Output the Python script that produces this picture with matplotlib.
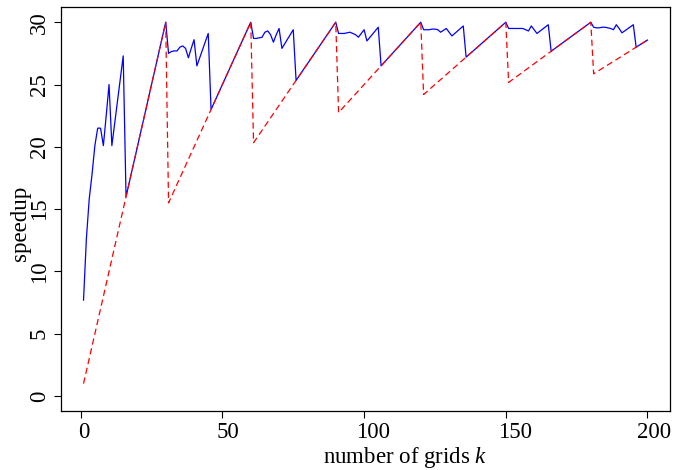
import matplotlib
matplotlib.use('Agg')
import matplotlib.pyplot as plt
import matplotlib.transforms as mtransforms

# red dashed: ideal speedup, vertices of the sawtooth
red_k = [1, 30, 31, 60, 61, 90, 91, 120, 121, 150, 151, 180, 181, 200]
red_s = [1.0, 30.0, 15.5, 30.0, 20.33, 30.0, 22.75, 30.0, 24.2, 30.0,
         25.17, 30.0, 25.86, 28.57]

# blue solid: measured speedup (vertices, straight pieces kept as end points)
blue_k = [1, 2, 3, 4, 5, 6, 7, 8, 9, 10, 11, 15,
          16, 30,
          31, 32, 33, 34, 35, 36, 37, 38, 39, 40, 41, 45,
          46, 60,
          61, 62, 63, 64, 65, 66, 67, 68, 69, 70, 71, 75,
          76, 90,
          91, 92, 93, 94, 95, 96, 97, 98, 99, 100, 101, 105,
          106, 120,
          121, 122, 123, 124, 125, 126, 127, 128, 129, 130, 131, 135,
          136, 150,
          151, 152, 153, 154, 155, 156, 157, 158, 159, 160, 161, 165,
          166, 180,
          181, 182, 183, 184, 185, 186, 187, 188, 189, 190, 191, 195,
          196, 200]
blue_s = [7.7, 12.6, 15.8, 17.8, 20.1, 21.5, 21.5, 20.1, 22.5, 25.0, 20.1, 27.3,
          16.0, 30.0,
          27.5, 27.65, 27.7, 27.7, 28.0, 28.1, 27.9, 27.15, 27.9, 28.6, 26.5, 29.1,
          23.0, 30.0,
          28.7, 28.7, 28.75, 28.8, 29.2, 29.3, 29.0, 28.4, 29.0, 29.5, 27.9, 29.4,
          25.33, 30.0,
          29.1, 29.1, 29.1, 29.15, 29.2, 29.1, 29.0, 28.8, 29.1, 29.4, 28.5, 29.6,
          26.5, 30.0,
          29.4, 29.4, 29.4, 29.45, 29.45, 29.4, 29.2, 29.35, 29.5, 29.2, 28.9, 29.7,
          27.2, 30.0,
          29.5, 29.5, 29.5, 29.5, 29.5, 29.5, 29.4, 29.3, 29.7, 29.4, 29.1, 29.8,
          27.67, 30.0,
          29.6, 29.55, 29.55, 29.6, 29.6, 29.55, 29.5, 29.4, 29.8, 29.5, 29.15, 29.8,
          28.0, 28.57]

xticks = [0, 50, 100, 150, 200]
yticks = [0, 5, 10, 15, 20, 25, 30]

plt.rcParams['font.family'] = ['Liberation Serif', 'DejaVu Serif']
plt.rcParams['mathtext.fontset'] = 'custom'
plt.rcParams['mathtext.it'] = 'Liberation Serif:italic'
plt.rcParams['mathtext.rm'] = 'Liberation Serif'

fig = plt.figure(figsize=(6.73, 4.70), dpi=100)
ax = fig.add_axes([0.0906, 0.1255, 0.905, 0.859])

ax.plot(blue_k, blue_s, color='#0000ff', lw=0.9)
ax.plot(red_k, red_s, color='#ff0000', lw=0.9, dashes=(5, 3))

ax.set_xlim(-6.96, 207.96)
ax.set_ylim(-1.2, 31.2)
ax.set_xticks(xticks)
ax.set_yticks(yticks)
ax.tick_params(direction='out', length=5, width=0.8, labelsize=16.5, pad=3)
for lab in ax.get_yticklabels():
    lab.set_rotation(90)
    lab.set_va('center')
# x tick labels sit a little right of their ticks in the original
shifts = [3, 6, 9, 9, 7]
for lab, dx in zip(ax.get_xticklabels(), shifts):
    off = mtransforms.ScaledTranslation(dx / 100, 0, fig.dpi_scale_trans)
    lab.set_transform(lab.get_transform() + off)
for sp in ax.spines.values():
    sp.set_linewidth(0.9)

# labels sit a bit off-centre in the original
ax.set_xlabel('number of grids $k$', fontsize=16.5)
ax.xaxis.set_label_coords(0.565, -0.083)
ax.set_ylabel('speedup', fontsize=16.5)
ax.yaxis.set_label_coords(-0.05, 0.465)

fig.savefig('out.png', dpi=100)
